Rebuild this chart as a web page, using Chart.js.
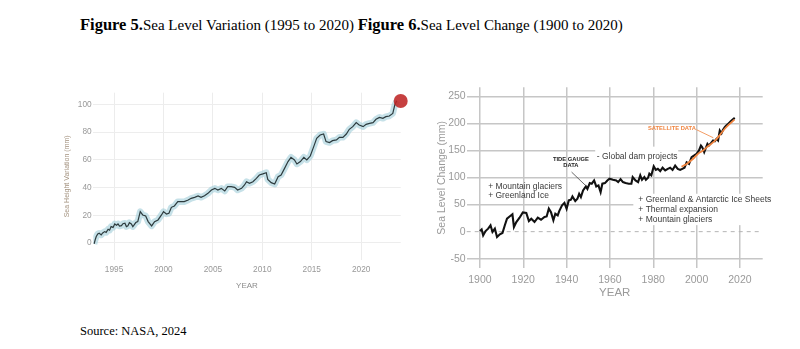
<!DOCTYPE html>
<html>
<head>
<meta charset="utf-8">
<script src="https://cdn.jsdelivr.net/npm/chart.js@4.4.1/dist/chart.umd.min.js"></script>
<style>
  body { margin: 0; background: #fff; width: 800px; height: 349px; position: relative; overflow: hidden; }
  #title { position: absolute; left: 80px; top: 15px; font-family: "Liberation Serif", "Times New Roman", serif; font-size: 15px; color: #000; white-space: nowrap; }
  #title b { font-size: 16.5px; }
  #source { position: absolute; left: 80px; top: 324px; font-family: "Liberation Serif", "Times New Roman", serif; font-size: 12.5px; color: #000; }
  #left { position: absolute; left: 60px; top: 80px; }
  #right { position: absolute; left: 420px; top: 80px; }
</style>
</head>
<body>
<div id="title"><b>Figure 5.</b>Sea Level Variation (1995 to 2020) <b>Figure 6.</b>Sea Level Change (1900 to 2020)</div>
<div id="source">Source: NASA, 2024</div>
<canvas id="left" width="350" height="220"></canvas>
<canvas id="right" width="380" height="230"></canvas>
<script>
// Figure 5: satellite sea height variation (mm)
const varYears = [1992.98, 1993.1, 1993.2, 1993.35, 1993.5, 1993.7, 1993.85, 1994.05, 1994.2, 1994.4, 1994.55, 1994.7, 1994.9, 1995.07, 1995.25, 1995.4, 1995.55, 1995.75, 1995.9, 1996.1, 1996.25, 1996.4, 1996.55, 1996.75, 1996.9, 1997.05, 1997.2, 1997.4, 1997.65, 1997.9, 1998.2, 1998.45, 1998.8, 1999.1, 1999.45, 1999.8, 2000.0, 2000.3, 2000.55, 2000.8, 2001.1, 2001.45, 2001.8, 2002.1, 2002.5, 2002.8, 2003.15, 2003.5, 2003.8, 2004.15, 2004.5, 2004.85, 2005.2, 2005.5, 2005.85, 2006.2, 2006.5, 2006.85, 2007.2, 2007.5, 2007.9, 2008.2, 2008.4, 2008.7, 2009.05, 2009.4, 2009.7, 2010.05, 2010.4, 2010.55, 2010.9, 2011.25, 2011.6, 2011.9, 2012.25, 2012.6, 2012.9, 2013.25, 2013.5, 2013.85, 2014.2, 2014.5, 2014.85, 2015.2, 2015.5, 2015.85, 2016.2, 2016.45, 2016.8, 2017.1, 2017.5, 2017.8, 2018.15, 2018.5, 2018.8, 2019.15, 2019.5, 2019.8, 2020.2, 2020.5, 2020.85, 2021.2, 2021.5, 2021.85, 2022.2, 2022.5, 2022.85, 2023.2, 2023.4, 2023.6];
const varValues = [-0.7, 2.5, 4.6, 6.5, 7, 5.8, 7.2, 8.2, 7.6, 9.9, 9.2, 11.8, 11.2, 13.7, 12.8, 13.7, 12.2, 12.5, 13.9, 14.2, 11.8, 12.3, 14.6, 13.7, 11.8, 13.2, 14.7, 15.4, 22.6, 20.2, 19.5, 15.4, 12.3, 15.4, 16.6, 20.2, 22.6, 20.9, 21.4, 25.7, 26.7, 29.8, 29.8, 29.8, 31, 32.2, 32.9, 33.9, 32.9, 34.1, 35.8, 38.2, 39.4, 38.2, 39.4, 37.5, 40.6, 40.6, 40.1, 38.2, 39.4, 41.8, 44.2, 43, 44.2, 46.6, 49, 49.8, 50.7, 45.9, 43.5, 42.5, 47.8, 49, 53.8, 58.7, 61.8, 59.9, 57, 58.7, 61.8, 59.9, 62.7, 69.5, 75.5, 77.9, 78.6, 73.1, 72.4, 73.8, 74.3, 76.2, 76.2, 78.6, 82, 83.9, 86.8, 85.1, 83.9, 85.6, 86.3, 86.8, 89.2, 90.6, 89.9, 91.1, 91.6, 93.5, 99.5, 102.6];
const latestYear = [2024.0];
const latestValue = [102.4];
const varXTicks = [1995, 2000, 2005, 2010, 2015, 2020];
const varYTicks = [0, 20, 40, 60, 80, 100];

// Figure 6: tide gauge + satellite sea level change (mm)
const gaugeYears = [1900, 1900.8, 1901.5, 1902.6, 1903.8, 1904.9, 1905.8, 1906.9, 1907.9, 1909.2, 1910.4, 1911.5, 1912.5, 1913.7, 1915, 1915.7, 1916.8, 1918.3, 1919.8, 1921.4, 1922.6, 1923.7, 1925.2, 1926.7, 1928.2, 1929.8, 1930.8, 1931.8, 1932.8, 1933.9, 1934.8, 1935.9, 1936.6, 1937.9, 1939, 1940, 1941, 1942, 1942.7, 1944, 1945, 1945.8, 1946.6, 1947.6, 1948.9, 1949.6, 1950.7, 1951.6, 1952.7, 1953.7, 1954.7, 1955.7, 1956.5, 1957.7, 1958.8, 1959.8, 1961.4, 1962.9, 1963.8, 1964.9, 1966, 1967.2, 1968.7, 1969.9, 1970.5, 1971.8, 1973, 1974, 1974.8, 1975.9, 1976.6, 1977.6, 1978.2, 1979.1, 1980.2, 1981.2, 1982.1, 1983.2, 1984.3, 1985.5, 1986.7, 1987.8, 1988.9, 1990.1, 1991.3, 1992.4, 1993.4, 1994.4, 1995.4, 1996.5, 1997.7, 1998.9, 2000, 2001.1, 2002, 2002.6, 2003.5, 2004.1, 2005, 2005.6, 2006.6, 2007.6, 2008.4, 2009.2, 2009.9, 2010.7, 2011.5, 2012.2, 2013, 2013.7, 2014.5, 2015.3, 2016, 2016.9, 2017.6];
const gaugeValues = [1, 4, -7, 1, 5.5, 11.7, -0.6, 5.5, -10, -5, -2.5, 11.7, 24, 28, 32, 8.6, 17.8, 25.8, 35.6, 34.4, 19.7, 24, 17.8, 25.8, 22, 27, 28, 42.4, 36, 21, 33, 30, 38, 48.5, 53, 42.4, 57.7, 59, 65, 56.5, 60.8, 70, 64, 76, 83.5, 79, 89.7, 88.5, 94.6, 83.5, 85.4, 73, 88.5, 89.7, 94.6, 97.7, 95.8, 94.6, 91.5, 97, 91.5, 89.7, 88.5, 88.5, 100.7, 94.6, 91.5, 103.8, 95.8, 100.7, 95.8, 99.5, 107, 103.8, 120.4, 114, 116, 111.8, 118, 113, 116, 118, 114, 122, 116, 114, 116, 118, 128, 125, 137.6, 140.7, 143.7, 150, 159, 156, 146.8, 153, 162, 159, 163.4, 168.3, 167, 171.4, 168.3, 186.7, 181.8, 188, 193, 196, 199, 202, 205, 208, 210];
const satYears = [1993, 1995, 1997, 1999, 2001, 2003, 2005, 2007, 2009, 2011, 2013, 2015, 2017.5];
const satValues = [120, 124, 130, 137, 145, 150, 157, 163, 170, 180, 190, 198, 207];
const levelXTicks = [1900, 1920, 1940, 1960, 1980, 2000, 2020];
const levelYTicks = [-50, 0, 50, 100, 150, 200, 250];

const sans = '"Liberation Sans", Arial, Helvetica, sans-serif';
const toXY = (xs, ys) => xs.map((x, i) => ({ x, y: ys[i] }));

// ---------- Figure 5 ----------
new Chart(document.getElementById('left'), {
  type: 'line',
  data: {
    datasets: [
      {
        data: toXY(latestYear, latestValue),
        showLine: false,
        pointRadius: 7,
        pointBackgroundColor: 'rgba(190,38,38,0.88)',
        pointBorderWidth: 0,
        clip: false,
        order: 0
      },
      {
        data: toXY(varYears, varValues),
        borderColor: '#2d3b3e',
        borderWidth: 1.2,
        pointRadius: 0,
        tension: 0,
        order: 1
      },
      {
        // uncertainty band drawn as a wide pale stroke behind the series
        data: toXY(varYears, varValues),
        borderColor: 'rgba(160,205,216,0.6)',
        borderWidth: 6.5,
        pointRadius: 0,
        borderJoinStyle: 'round',
        tension: 0,
        order: 2
      }
    ]
  },
  options: {
    responsive: false,
    animation: false,
    layout: { padding: { top: 12.7, right: 9.3, left: 0, bottom: 0 } },
    plugins: { legend: { display: false }, tooltip: { enabled: false } },
    scales: {
      x: {
        type: 'linear',
        min: 1992.9,
        max: 2024,
        afterBuildTicks: s => { s.ticks = varXTicks.map(v => ({ value: v })); },
        afterFit: s => { s.height = 40; },
        grid: { color: '#ececec', lineWidth: 1, drawTicks: false },
        border: { display: false },
        ticks: { color: '#999', font: { family: sans, size: 8.3 }, padding: 5, callback: v => String(v) },
        title: { display: true, text: 'YEAR', color: '#8c8c8c', font: { family: sans, size: 8 }, padding: { top: 0, bottom: 9.2 } }
      },
      y: {
        min: -12.3,
        max: 108.4,
        afterBuildTicks: s => { s.ticks = varYTicks.map(v => ({ value: v })); },
        afterFit: s => { s.width = 33.3; },
        grid: { color: '#ededed', lineWidth: 1, drawTicks: false },
        border: { display: false },
        ticks: { color: '#999', font: { family: sans, size: 8.3 }, padding: 1.6 },
        title: { display: true, text: 'Sea Height Variation (mm)', color: '#a3927f', font: { family: sans, size: 7 }, padding: { top: 2.8, bottom: 0 } }
      }
    }
  }
});

// ---------- Figure 6 ----------
const level6Notes = {
  id: 'level6Notes',
  beforeDatasetsDraw(chart) {
    const { ctx, scales: { x, y }, chartArea } = chart;
    ctx.save();
    // dashed zero line
    ctx.strokeStyle = '#b5b5b5';
    ctx.lineWidth = 1;
    ctx.setLineDash([4, 4]);
    ctx.beginPath();
    ctx.moveTo(chartArea.left, y.getPixelForValue(0));
    ctx.lineTo(chartArea.right, y.getPixelForValue(0));
    ctx.stroke();
    ctx.setLineDash([]);
    // white label backgrounds
    ctx.fillStyle = '#fff';
    const x1 = x.getPixelForValue(1953.2), x2 = x.getPixelForValue(1991.5);
    const y1 = y.getPixelForValue(157), y2 = y.getPixelForValue(124);
    ctx.fillRect(x1, y1, x2 - x1, y2 - y1);
    const x3 = x.getPixelForValue(1970.8), x4 = chartArea.right + 1;
    const y3 = y.getPixelForValue(70), y4 = y.getPixelForValue(12);
    ctx.fillRect(x3, y3, x4 - x3, y4 - y3);
    ctx.restore();
  },
  afterDatasetsDraw(chart) {
    const { ctx, scales: { x, y } } = chart;
    const px = v => x.getPixelForValue(v), py = v => y.getPixelForValue(v);
    ctx.save();
    ctx.textBaseline = 'middle';
    ctx.fillStyle = '#3a3a3a';
    ctx.font = '8.5px ' + sans;
    ctx.textAlign = 'left';
    ctx.fillText('+ Mountain glaciers', px(1903.8), py(83.6));
    ctx.fillText('+ Greenland Ice', px(1903.8), py(66.4));
    ctx.fillText('- Global dam projects', px(1953.9), py(139));
    ctx.fillText('+ Greenland & Antarctic Ice Sheets', px(1973.1), py(59));
    ctx.fillText('+ Thermal expansion', px(1973.1), py(40.6));
    ctx.fillText('+ Mountain glaciers', px(1973.1), py(22.1));
    ctx.textAlign = 'center';
    ctx.font = 'bold 5.8px ' + sans;
    ctx.fillStyle = '#222';
    ctx.fillText('TIDE GAUGE', px(1942), py(134));
    ctx.fillText('DATA', px(1942), py(122));
    ctx.fillStyle = '#f0843f';
    ctx.fillText('SATELLITE DATA', px(1988.6), py(191));
    ctx.lineWidth = 0.8;
    ctx.strokeStyle = '#444';
    ctx.beginPath();
    ctx.moveTo(px(1942.3), py(110));
    ctx.lineTo(px(1949.2), py(83.6));
    ctx.stroke();
    ctx.strokeStyle = '#f0843f';
    ctx.beginPath();
    ctx.moveTo(px(2000), py(188.2));
    ctx.lineTo(px(2007.7), py(173.4));
    ctx.stroke();
    ctx.restore();
  }
};

new Chart(document.getElementById('right'), {
  type: 'line',
  data: {
    datasets: [
      {
        data: toXY(satYears, satValues),
        borderColor: '#f0843f',
        borderWidth: 1.8,
        pointRadius: 0,
        tension: 0.3,
        order: 0
      },
      {
        data: toXY(gaugeYears, gaugeValues),
        borderColor: '#111',
        borderWidth: 2.1,
        pointRadius: 0,
        tension: 0,
        order: 1
      }
    ]
  },
  options: {
    responsive: false,
    animation: false,
    layout: { padding: { top: 6.7, right: 37.3, left: 0, bottom: 0 } },
    plugins: { legend: { display: false }, tooltip: { enabled: false } },
    scales: {
      x: {
        type: 'linear',
        min: 1893.9,
        max: 2030.5,
        afterBuildTicks: s => { s.ticks = levelXTicks.map(v => ({ value: v })); },
        afterFit: s => { s.height = 41.7; },
        grid: { color: '#c6c6c6', lineWidth: 1.5, drawTicks: false },
        border: { display: false },
        ticks: { color: '#9a9a9a', font: { family: sans, size: 10.5 }, padding: 5.4, callback: v => String(v) },
        title: { display: true, text: 'YEAR', color: '#9a9a9a', font: { family: sans, size: 11.5 }, padding: { top: 0, bottom: 10.1 } }
      },
      y: {
        min: -67.7,
        max: 266.6,
        afterBuildTicks: s => { s.ticks = levelYTicks.map(v => ({ value: v })); },
        afterFit: s => { s.width = 46.7; },
        grid: { color: c => (c.tick && c.tick.value === 0 ? 'rgba(0,0,0,0)' : '#c6c6c6'), lineWidth: 1.5, drawTicks: false },
        border: { display: false },
        ticks: { color: '#9a9a9a', font: { family: sans, size: 10.5 }, padding: 1 },
        title: { display: true, text: 'Sea Level Change (mm)', color: '#9a9a9a', font: { family: sans, size: 10.5 }, padding: { top: 15.4, bottom: 0 } }
      }
    }
  },
  plugins: [level6Notes]
});
</script>
</body>
</html>
